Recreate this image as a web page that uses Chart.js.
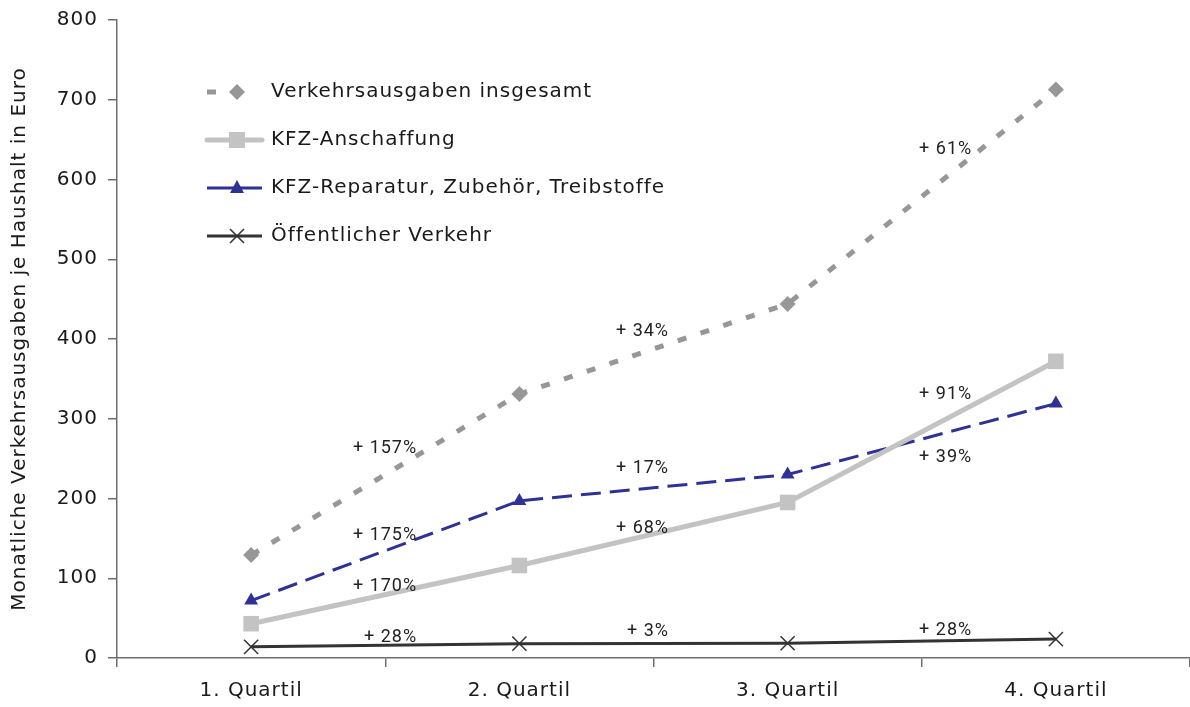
<!DOCTYPE html>
<html>
<head>
<meta charset="utf-8">
<script src="https://cdn.jsdelivr.net/npm/chart.js@4"></script>
<style>
  html, body { margin: 0; padding: 0; background: #ffffff; overflow: hidden; }
  #wrap { width: 1190px; height: 707px; position: relative; }
</style>
</head>
<body>
<div id="wrap"><canvas id="c"></canvas></div>
<script>
// ---- data ----
const categories = ['1. Quartil', '2. Quartil', '3. Quartil', '4. Quartil'];
const seriesNames = [
  'Verkehrsausgaben insgesamt',
  'KFZ-Anschaffung',
  'KFZ-Reparatur, Zubehör, Treibstoffe',
  'Öffentlicher Verkehr'
];
const insgesamt   = [129, 331, 444, 713];
const anschaffung = [43, 116, 195, 372];
const reparatur   = [72, 197, 230, 319];
const oeffentlich = [14, 18, 18.5, 23.7];
const yTicks = [0, 100, 200, 300, 400, 500, 600, 700, 800];
const changeInsgesamt   = ['+ 157%', '+ 34%', '+ 61%'];
const changeAnschaffung = ['+ 170%', '+ 68%', '+ 91%'];
const changeReparatur   = ['+ 175%', '+ 17%', '+ 39%'];
const changeOeffentlich = ['+ 28%', '+ 3%', '+ 28%'];

const FONT = "'DejaVu Sans', sans-serif";
const colInsg = '#979797', colAnsch = '#c3c3c3', colRep = '#2e3196', colOeff = '#333333';

const annoRightFrac = [0.619, 1.558, 2.688];
const annoY = {
  insg: [263, 410, 638],
  ansch: [90, 163, 331],
  rep: [153, 238, 252],
  oeff: [26, 33, 34]
};

const spacingPlugin = {
  id: 'spacing',
  beforeDraw(chart) { chart.ctx.letterSpacing = '1px'; },
  beforeLayout(chart) { chart.ctx.letterSpacing = '1px'; }
};

const annotationPlugin = {
  id: 'anno',
  afterDatasetsDraw(chart) {
    const ctx = chart.ctx;
    const xs = chart.scales.x, ys = chart.scales.y;
    const x0 = xs.getPixelForValue(0), step = xs.getPixelForValue(1) - x0;
    ctx.save();
    ctx.letterSpacing = '1px';
    ctx.font = "18px Roboto, sans-serif";
    ctx.fillStyle = '#222';
    ctx.textAlign = 'right';
    ctx.textBaseline = 'middle';
    const groups = [
      [changeInsgesamt, annoY.insg],
      [changeAnschaffung, annoY.ansch],
      [changeReparatur, annoY.rep],
      [changeOeffentlich, annoY.oeff]
    ];
    groups.forEach(([texts, yv]) => {
      texts.forEach((t, i) => {
        ctx.fillText(t, x0 + annoRightFrac[i] * step, ys.getPixelForValue(yv[i]));
      });
    });
    ctx.restore();
  },
  afterDraw(chart) {
    const ctx = chart.ctx;
    ctx.save();
    const lx0 = 207, lx1 = 262, mx = 237, tx = 271;
    const rows = [92, 140, 188, 236];
    ctx.letterSpacing = '1px';
    ctx.font = '20px ' + FONT;
    ctx.textBaseline = 'middle';
    ctx.textAlign = 'left';
    let y = rows[0];
    ctx.strokeStyle = colInsg; ctx.lineWidth = 5; ctx.lineCap = 'butt';
    ctx.beginPath(); ctx.moveTo(lx0, y); ctx.lineTo(lx0 + 9, y); ctx.stroke();
    ctx.fillStyle = colInsg;
    ctx.beginPath(); ctx.moveTo(mx, y - 8); ctx.lineTo(mx + 8, y); ctx.lineTo(mx, y + 8); ctx.lineTo(mx - 8, y); ctx.closePath(); ctx.fill();
    y = rows[1];
    ctx.strokeStyle = colAnsch; ctx.lineWidth = 5; ctx.lineCap = 'round';
    ctx.beginPath(); ctx.moveTo(lx0, y); ctx.lineTo(lx1, y); ctx.stroke();
    ctx.fillStyle = colAnsch; ctx.fillRect(mx - 8, y - 8, 16, 16);
    y = rows[2];
    ctx.strokeStyle = colRep; ctx.lineWidth = 3; ctx.lineCap = 'butt';
    ctx.beginPath(); ctx.moveTo(lx0, y); ctx.lineTo(lx1, y); ctx.stroke();
    ctx.fillStyle = colRep;
    ctx.beginPath(); ctx.moveTo(mx, y - 8); ctx.lineTo(mx + 7, y + 5); ctx.lineTo(mx - 7, y + 5); ctx.closePath(); ctx.fill();
    y = rows[3];
    ctx.strokeStyle = colOeff; ctx.lineWidth = 3;
    ctx.beginPath(); ctx.moveTo(lx0, y); ctx.lineTo(lx1, y); ctx.stroke();
    ctx.lineWidth = 1.5;
    ctx.beginPath(); ctx.moveTo(mx - 7, y - 7); ctx.lineTo(mx + 7, y + 7); ctx.moveTo(mx + 7, y - 7); ctx.lineTo(mx - 7, y + 7); ctx.stroke();
    ctx.fillStyle = '#1a1a1a';
    seriesNames.forEach((n, i) => ctx.fillText(n, tx, rows[i]));
    ctx.restore();
  }
};

new Chart(document.getElementById('c'), {
  type: 'line',
  data: {
    labels: categories,
    datasets: [
      {
        label: seriesNames[0], data: insgesamt,
        borderColor: colInsg, backgroundColor: colInsg, borderWidth: 5,
        borderDash: [9, 15], pointStyle: 'rectRot', pointRadius: 8,
        pointBackgroundColor: colInsg, pointBorderColor: colInsg, pointBorderWidth: 0, tension: 0
      },
      {
        label: seriesNames[1], data: anschaffung,
        borderColor: colAnsch, backgroundColor: colAnsch, borderWidth: 5,
        pointStyle: 'rect', pointRadius: 11,
        pointBackgroundColor: colAnsch, pointBorderColor: colAnsch, pointBorderWidth: 0, tension: 0
      },
      {
        label: seriesNames[2], data: reparatur,
        borderColor: colRep, backgroundColor: colRep, borderWidth: 3,
        borderDash: [20, 9], pointStyle: 'triangle', pointRadius: 8,
        pointBackgroundColor: colRep, pointBorderColor: colRep, pointBorderWidth: 0, tension: 0
      },
      {
        label: seriesNames[3], data: oeffentlich,
        borderColor: colOeff, backgroundColor: colOeff, borderWidth: 3,
        pointStyle: 'crossRot', pointRadius: 10,
        pointBorderColor: colOeff, pointBorderWidth: 1.5, tension: 0
      }
    ]
  },
  options: {
    responsive: true,
    maintainAspectRatio: false,
    animation: false,
    layout: { autoPadding: false, padding: { top: 20, left: 0, right: 0, bottom: 0 } },
    plugins: { legend: { display: false }, tooltip: { enabled: false } },
    scales: {
      x: {
        type: 'category',
        offset: true,
        grid: { display: true, drawOnChartArea: false, drawTicks: true, tickLength: 9, color: '#6e6e6e', lineWidth: 1.5, offset: true },
        border: { display: true, color: '#6e6e6e', width: 1.5 },
        ticks: { color: '#1a1a1a', font: { family: FONT, size: 20 }, padding: 12, maxRotation: 0 },
        afterFit(s) { s.height = 49; s.paddingLeft = 0; s.paddingRight = 0; }
      },
      y: {
        min: 0, max: 800,
        afterBuildTicks(s) { s.ticks = yTicks.map(v => ({ value: v })); },
        grid: { display: true, drawOnChartArea: false, drawTicks: true, tickLength: 9, color: '#6e6e6e', lineWidth: 1.5 },
        border: { display: true, color: '#6e6e6e', width: 1.5 },
        ticks: { color: '#1a1a1a', font: { family: FONT, size: 20 }, padding: 10 },
        title: {
          display: true,
          text: 'Monatliche Verkehrsausgaben je Haushalt in Euro',
          color: '#1a1a1a',
          font: { family: FONT, size: 20 },
          padding: { top: 8, bottom: 0 }
        },
        afterFit(s) { s.width = 117; s.paddingTop = 0; s.paddingBottom = 0; }
      }
    }
  },
  plugins: [spacingPlugin, annotationPlugin]
});
</script>
</body>
</html>
